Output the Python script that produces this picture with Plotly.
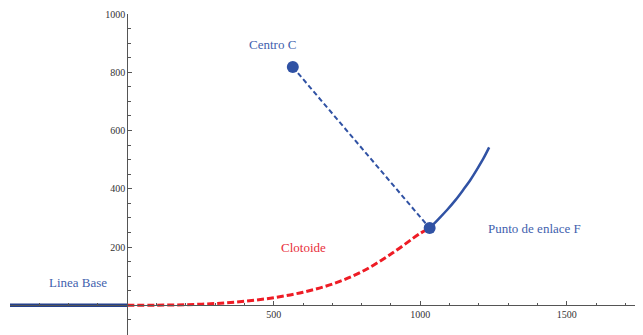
import plotly.graph_objects as go

# Data
base_x = [-400, 0]
base_y = [0, 0]

clot_x = [0, 100, 200, 300, 400, 500, 600, 700, 800, 900, 1000, 1032]
clot_y = [0, 0.3, 2, 6, 14, 26, 45, 73, 115, 176, 247, 265]

arc_x = [1032, 1062, 1092, 1120, 1147, 1172, 1195, 1216, 1235]
arc_y = [265, 296, 328, 361, 397, 432, 469, 505, 542]

center = (565, 818)
punto_f = (1032, 265)

xt_vals = [500, 1000, 1500]
yt_vals = [200, 400, 600, 800, 1000]

labels = [
    ("Centro C", 497, 896, "#3f5fae"),
    ("Punto de enlace F", 1391, 265, "#3f5fae"),
    ("Clotoide", 600, 200, "#e8303a"),
    ("Linea Base", -169, 77, "#3f5fae"),
]

XR = [-400, 1760]
YR = [-102, 1000]

SERIF = "Liberation Serif, Times New Roman, serif"
blue = "#3052a4"
fig = go.Figure()
fig.add_trace(go.Scatter(x=base_x, y=base_y, mode="lines",
                         line=dict(color="#24408c", width=3.5), hoverinfo="skip"))
fig.add_trace(go.Scatter(x=clot_x, y=clot_y, mode="lines",
                         line=dict(color="#ee1c25", width=3, dash="7px,3px", shape="spline"),
                         hoverinfo="skip"))
fig.add_trace(go.Scatter(x=arc_x, y=arc_y, mode="lines",
                         line=dict(color=blue, width=2.5, shape="spline"), hoverinfo="skip"))
fig.add_trace(go.Scatter(x=[center[0], punto_f[0]], y=[center[1], punto_f[1]], mode="lines",
                         line=dict(color=blue, width=2, dash="5px,3px"), hoverinfo="skip"))
fig.add_trace(go.Scatter(x=[center[0], punto_f[0]], y=[center[1], punto_f[1]], mode="markers",
                         marker=dict(color=blue, size=12), hoverinfo="skip"))

for text, x, y, c in labels:
    fig.add_annotation(x=x, y=y, text=text, showarrow=False,
                       font=dict(family=SERIF, size=13, color=c))

ypos = (0 - YR[0]) / (YR[1] - YR[0])
xpos = (0 - XR[0]) / (XR[1] - XR[0])

axis_font = dict(family=SERIF, size=10, color="#333333")
fig.update_layout(
    width=635, height=327,
    margin=dict(l=2, r=0, t=6, b=0, autoexpand=False),
    paper_bgcolor="white", plot_bgcolor="white",
    showlegend=False,
    xaxis=dict(range=XR, anchor="free", position=ypos, showline=True, linecolor="#555555",
               linewidth=1, showgrid=False, zeroline=False, tickvals=xt_vals, automargin=False,
               ticks="inside", ticklen=4, tickcolor="#555555", tickfont=axis_font,
               minor=dict(dtick=100, tick0=0, ticks="inside", ticklen=2.5, tickcolor="#555555", showgrid=False)),
    yaxis=dict(range=YR, anchor="free", position=xpos, showline=True, linecolor="#555555",
               linewidth=1, showgrid=False, zeroline=False, tickvals=yt_vals, automargin=False,
               ticks="inside", ticklen=4, tickcolor="#555555", tickfont=axis_font,
               minor=dict(dtick=50, tick0=0, ticks="inside", ticklen=2.5, tickcolor="#555555", showgrid=False)),
)

fig.write_html("out.html")
